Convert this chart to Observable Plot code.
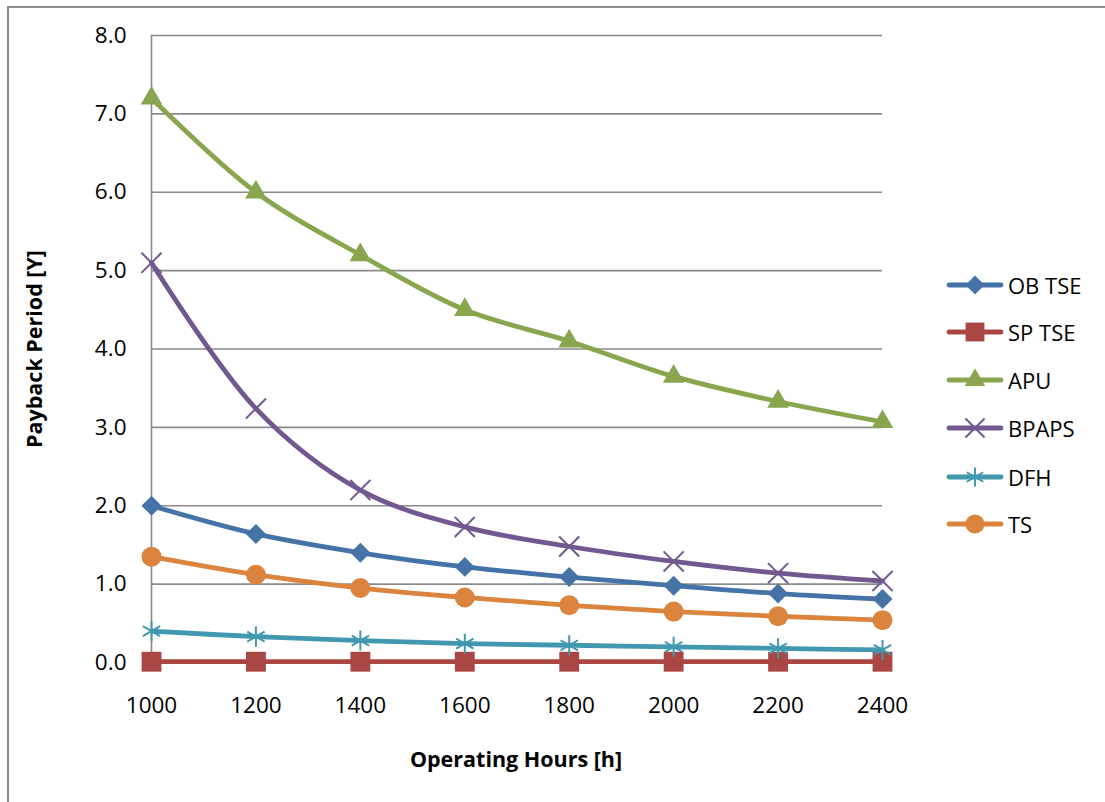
<!DOCTYPE html>
<html>
<head>
<meta charset="utf-8">
<script src="https://cdn.jsdelivr.net/npm/d3@7"></script>
<script src="https://cdn.jsdelivr.net/npm/@observablehq/plot@0.6"></script>
<style>
  html, body { margin: 0; padding: 0; background: #fff; }
  #wrap { position: relative; width: 1105px; height: 802px; overflow: hidden; font-family: "Open Sans", sans-serif; }
  #border { position: absolute; left: 7px; top: 6px; width: 1200px; height: 900px; border: 2px solid #8c8c8c; box-sizing: border-box; }
  #chart { position: absolute; left: 0; top: 0; }
  .title { position: absolute; font-weight: bold; font-size: 21.5px; color: #000; white-space: nowrap; }
  #xtitle { left: 516px; top: 758px; transform: translate(-50%, -50%); }
  #ytitle { left: 33px; top: 349px; transform: translate(-50%, -50%) rotate(-90deg); }
  #legend { position: absolute; left: 946px; top: 0; }
  .lg-row { position: absolute; left: 0; height: 30px; display: flex; align-items: center; white-space: nowrap; font-size: 22px; color: #000; }
  .lg-row span { margin-left: 4px; }
</style>
</head>
<body>
<div id="wrap">
  <div id="border"></div>
  <div id="chart"></div>
  <div class="title" id="xtitle">Operating Hours [h]</div>
  <div class="title" id="ytitle">Payback Period [Y]</div>
  <div id="legend"></div>
</div>
<script>
// ---- data ----
const hours = [1000, 1200, 1400, 1600, 1800, 2000, 2200, 2400];
const seriesNames = ["OB TSE", "SP TSE", "APU", "BPAPS", "DFH", "TS"];
const obTse = [2.0, 1.64, 1.40, 1.22, 1.09, 0.98, 0.88, 0.81];
const spTse = [0.01, 0.01, 0.01, 0.01, 0.01, 0.01, 0.01, 0.01];
const apu   = [7.2, 6.0, 5.2, 4.5, 4.1, 3.65, 3.33, 3.07];
const bpaps = [5.1, 3.24, 2.2, 1.73, 1.48, 1.29, 1.14, 1.04];
const dfh   = [0.40, 0.33, 0.28, 0.24, 0.22, 0.20, 0.18, 0.16];
const ts    = [1.35, 1.12, 0.95, 0.83, 0.73, 0.65, 0.59, 0.54];
const yTicks = [0, 1, 2, 3, 4, 5, 6, 7, 8];

const seriesValues = [obTse, spTse, apu, bpaps, dfh, ts];
const colors = ["#4572A7", "#AA4643", "#89A54E", "#71588F", "#4198AF", "#DB843D"];
const symbols = ["diamond2", "square", "triangle", "times", "asterisk", "circle"];
const radii = [9, 11.2, 8, 9.2, 9.5, 10];
const filled = [true, true, true, false, false, true];

const data = [];
seriesNames.forEach((s, i) => hours.forEach((h, j) => data.push({series: s, hours: h, value: seriesValues[i][j]})));

// ---- chart ----
const marks = [
  Plot.gridY(yTicks, {stroke: "#8a8a8a", strokeOpacity: 1, strokeWidth: 1.6}),
  Plot.ruleX([1000], {y1: 0, y2: 8, stroke: "#8a8a8a", strokeWidth: 1.6}),
  Plot.ruleY([0], {stroke: "#8a8a8a", strokeWidth: 1.6}),
  Plot.axisY(yTicks, {tickSize: 0, tickPadding: 25, tickFormat: d3.format(".1f"), fontSize: 22.5, label: null}),
  Plot.axisX(hours, {tickSize: 0, tickPadding: 35, tickFormat: d => String(d), fontSize: 22.5, label: null})
];
seriesNames.forEach((s, i) => {
  const rows = data.filter(d => d.series === s);
  marks.push(Plot.line(rows, {x: "hours", y: "value", stroke: colors[i], strokeWidth: 4.8, curve: "catmull-rom"}));
  marks.push(Plot.dot(rows, filled[i]
    ? {x: "hours", y: "value", symbol: () => symbols[i], r: radii[i], fill: colors[i], stroke: "none"}
    : {x: "hours", y: "value", symbol: () => symbols[i], r: radii[i], fill: "none", stroke: colors[i], strokeWidth: 2}));
});

const chart = Plot.plot({
  width: 1105,
  height: 802,
  marginLeft: 151,
  marginRight: 223,
  marginTop: 35,
  marginBottom: 140,
  style: {fontFamily: "'Open Sans', sans-serif", color: "#000", background: "transparent"},
  x: {type: "linear", domain: [1000, 2400]},
  y: {domain: [0, 8]},
  symbol: {type: "identity"},
  marks
});
document.getElementById("chart").appendChild(chart);

// ---- legend ----
const legend = document.getElementById("legend");
const rowY = [285, 332, 380, 428, 477, 524];
const symMap = {diamond2: d3.symbolDiamond2, square: d3.symbolSquare, triangle: d3.symbolTriangle, times: d3.symbolTimes, asterisk: d3.symbolAsterisk, circle: d3.symbolCircle};
seriesNames.forEach((s, i) => {
  const row = document.createElement("div");
  row.className = "lg-row";
  row.style.top = (rowY[i] - 15) + "px";
  const svg = d3.create("svg").attr("width", 58).attr("height", 30);
  svg.append("line").attr("x1", 3).attr("x2", 55).attr("y1", 15).attr("y2", 15)
    .attr("stroke", colors[i]).attr("stroke-width", 4.8).attr("stroke-linecap", "round");
  const size = Math.PI * radii[i] * radii[i] * 0.9;
  const p = svg.append("path").attr("transform", "translate(29,15)")
    .attr("d", d3.symbol(symMap[symbols[i]], size)());
  if (filled[i]) p.attr("fill", colors[i]); else p.attr("fill", "none").attr("stroke", colors[i]).attr("stroke-width", 2);
  row.appendChild(svg.node());
  const t = document.createElement("span");
  t.textContent = s;
  row.appendChild(t);
  legend.appendChild(row);
});
</script>
</body>
</html>
